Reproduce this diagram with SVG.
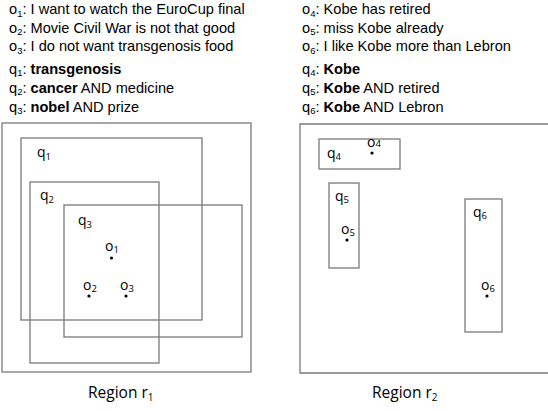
<svg xmlns="http://www.w3.org/2000/svg" width="548" height="411" viewBox="0 0 548 411">
<style>
text{font-family:"Open Sans","Liberation Sans",Arial,sans-serif;fill:#000}
.t{font-family:"Liberation Sans",Arial,sans-serif;font-size:14.6px}
.b{font-weight:bold}
.s{font-size:9.5px}
.lbl{font-size:14px}
.reg{font-size:15.5px}
.box{fill:none;stroke:#7a7a7a;stroke-width:1.3}
.dot{fill:#000}
</style>
<rect width="548" height="411" fill="#fff"/>
<g id="legend-left">
<text class="t" x="9" y="14">o<tspan class="s" dy="2.5">1</tspan><tspan dy="-2.5">: I want to watch the EuroCup final</tspan></text>
<text class="t" x="9" y="32.5">o<tspan class="s" dy="2.5">2</tspan><tspan dy="-2.5">: Movie Civil War is not that good</tspan></text>
<text class="t" x="9" y="51">o<tspan class="s" dy="2.5">3</tspan><tspan dy="-2.5">: I do not want transgenosis food</tspan></text>
<text class="t" x="9" y="73.5">q<tspan class="s" dy="2.5">1</tspan><tspan dy="-2.5">: </tspan><tspan class="b">transgenosis</tspan></text>
<text class="t" x="9" y="92.5">q<tspan class="s" dy="2.5">2</tspan><tspan dy="-2.5">: </tspan><tspan class="b">cancer</tspan> AND medicine</text>
<text class="t" x="9" y="111.5">q<tspan class="s" dy="2.5">3</tspan><tspan dy="-2.5">: </tspan><tspan class="b">nobel</tspan> AND prize</text>
</g>
<g id="legend-right">
<text class="t" x="302" y="14">o<tspan class="s" dy="2.5">4</tspan><tspan dy="-2.5">: Kobe has retired</tspan></text>
<text class="t" x="302" y="32.5">o<tspan class="s" dy="2.5">5</tspan><tspan dy="-2.5">: miss Kobe already</tspan></text>
<text class="t" x="302" y="51">o<tspan class="s" dy="2.5">6</tspan><tspan dy="-2.5">: I like Kobe more than Lebron</tspan></text>
<text class="t" x="302" y="73.5">q<tspan class="s" dy="2.5">4</tspan><tspan dy="-2.5">: </tspan><tspan class="b">Kobe</tspan></text>
<text class="t" x="302" y="92.5">q<tspan class="s" dy="2.5">5</tspan><tspan dy="-2.5">: </tspan><tspan class="b">Kobe</tspan> AND retired</text>
<text class="t" x="302" y="111.5">q<tspan class="s" dy="2.5">6</tspan><tspan dy="-2.5">: </tspan><tspan class="b">Kobe</tspan> AND Lebron</text>
</g>
<g id="region-r1">
<rect class="box" x="2" y="123" width="249" height="249"/>
<text class="reg" x="88" y="398">Region r<tspan class="s" dy="3" style="font-size:10px">1</tspan></text>
</g>
<g id="q1">
<rect class="box" x="21" y="138" width="181" height="182"/>
<text class="lbl" x="37" y="157">q<tspan class="s" dy="2.5">1</tspan></text>
</g>
<g id="q2">
<rect class="box" x="30" y="182" width="129" height="181"/>
<text class="lbl" x="40" y="200">q<tspan class="s" dy="2.5">2</tspan></text>
</g>
<g id="q3">
<rect class="box" x="64" y="205" width="178" height="132"/>
<text class="lbl" x="78" y="225">q<tspan class="s" dy="2.5">3</tspan></text>
</g>
<g id="o1">
<circle class="dot" cx="111.5" cy="258" r="1.6"/>
<text class="lbl" x="105" y="251">o<tspan class="s" dy="1.5">1</tspan></text>
</g>
<g id="o2">
<circle class="dot" cx="89" cy="296" r="1.6"/>
<text class="lbl" x="83" y="290">o<tspan class="s" dy="1.5">2</tspan></text>
</g>
<g id="o3">
<circle class="dot" cx="126" cy="296" r="1.6"/>
<text class="lbl" x="120" y="290">o<tspan class="s" dy="1.5">3</tspan></text>
</g>
<g id="region-r2">
<path class="box" d="M549,124 H300 V373 H549"/>
<text class="reg" x="372" y="398">Region r<tspan class="s" dy="3" style="font-size:10px">2</tspan></text>
</g>
<g id="q4">
<rect class="box" x="319" y="139" width="81" height="30"/>
<text class="lbl" x="327" y="158">q<tspan class="s" dy="2">4</tspan></text>
</g>
<g id="o4">
<circle class="dot" cx="372" cy="153" r="1.6"/>
<text class="lbl" x="367" y="147">o<tspan class="s" dy="0">4</tspan></text>
</g>
<g id="q5">
<rect class="box" x="329" y="183" width="30" height="85"/>
<text class="lbl" x="335" y="201">q<tspan class="s" dy="2">5</tspan></text>
</g>
<g id="o5">
<circle class="dot" cx="347" cy="240" r="1.6"/>
<text class="lbl" x="341" y="234">o<tspan class="s" dy="1.5">5</tspan></text>
</g>
<g id="q6">
<rect class="box" x="465" y="199" width="37" height="133"/>
<text class="lbl" x="473" y="217">q<tspan class="s" dy="2">6</tspan></text>
</g>
<g id="o6">
<circle class="dot" cx="487" cy="296" r="1.6"/>
<text class="lbl" x="481" y="290">o<tspan class="s" dy="1.5">6</tspan></text>
</g>
<g id="connectors"/>
</svg>
